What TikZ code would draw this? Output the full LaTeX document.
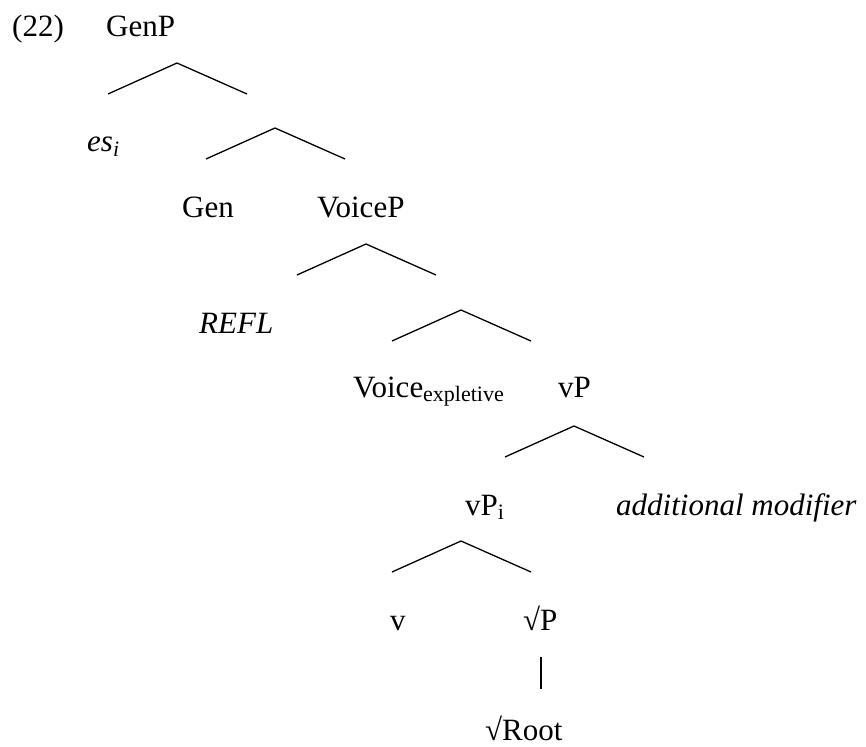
\documentclass[tikz,border=0pt]{standalone}
\usepackage{fontspec}
\setmainfont{Liberation Serif}
\begin{document}
\begin{tikzpicture}[x=1pt,y=-1pt,
  lbl/.style={anchor=base west,inner sep=0pt,font=\fontsize{31}{35}\selectfont},
  branch/.style={line width=1.3pt,line cap=butt}]
\useasboundingbox (0,0) rectangle (866,746);
% labels
\node[lbl] (ex)    at (12,37)  {(22)};
\node[lbl] (genp)  at (106,37) {GenP};
\node[lbl] (es)    at (87,152) {\textit{es}\raisebox{-5pt}{\fontsize{22}{25}\selectfont\textit{i}}};
\node[lbl] (gen)   at (182,217) {Gen};
\node[lbl] (voicep) at (317,217) {VoiceP};
\node[lbl] (refl)  at (199,333) {\textit{REFL}};
\node[lbl] (voice) at (353,397) {Voice\raisebox{-4pt}{\fontsize{22}{25}\selectfont expletive}};
\node[lbl] (vp)    at (558,397) {vP};
\node[lbl] (vpi)   at (465,515) {vP\raisebox{-4pt}{\fontsize{22}{25}\selectfont i}};
\node[lbl] (mod)   at (616,515) {\textit{additional modifier}};
\node[lbl] (v)     at (390,630) {v};
\node[lbl] (rootp) at (523,630) {√P};
\node[lbl] (root)  at (485,740) {√Root};
% branch points
\foreach \n/\x/\y in {a/177/63, b/275/128, c/366/244, d/461/310, e/574/426, f/461/541}{
  \coordinate (\n) at (\x,\y);
  \coordinate (\n l) at (\x-69,\y+31);
  \coordinate (\n r) at (\x+70,\y+31);
  \draw[branch] (\n l) -- (\n) -- (\n r);
}
\coordinate (g1) at (541,657);
\coordinate (g2) at (541,689);
\draw[branch] (g1) -- (g2);
\end{tikzpicture}
\end{document}
